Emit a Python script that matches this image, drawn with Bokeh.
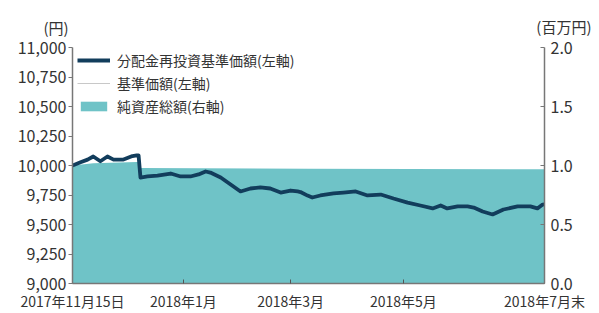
from bokeh.plotting import figure
from bokeh.models import (Range1d, LinearAxis, FixedTicker, NumeralTickFormatter,
                          Legend, LegendItem, Title)
from bokeh.embed import file_html
from bokeh.resources import INLINE

FONT = "Noto Sans CJK JP"

# position along the time axis (0 = 2017/11/15, 100 = 2018/7 end)
pos = [0, 1.7, 3.2, 4.4, 5.9, 7.4, 8.7, 10.8, 12.7, 13.6, 14.0, 14.4, 15.9, 18.0,
       20.8, 22.9, 25.0, 26.7, 28.2, 29.2, 31.4, 33.5, 35.6, 37.7, 39.8, 41.9,
       44.1, 46.2, 47.7, 48.3, 49.8, 50.8, 52.5, 55.3, 57.4, 60.0, 62.5, 65.3,
       68.0, 71.0, 73.7, 76.3, 78.0, 79.4, 81.6, 83.7, 85.0, 86.9, 89.0, 91.3,
       94.3, 97.0, 98.5, 99.6, 100]
# 分配金再投資基準価額 (円)
nav_reinv = [10000, 10028, 10050, 10076, 10036, 10076, 10050, 10050, 10080, 10085,
             10085, 9898, 9907, 9915, 9932, 9907, 9907, 9924, 9949, 9940, 9898,
             9839, 9780, 9805, 9814, 9805, 9771, 9788, 9780, 9775, 9745, 9729,
             9746, 9763, 9771, 9780, 9746, 9754, 9720, 9686, 9661, 9636, 9661,
             9636, 9653, 9653, 9644, 9610, 9585, 9627, 9653, 9653, 9636, 9669, 9670]
# 基準価額 (円) – no distributions, identical to the reinvested series
nav = list(nav_reinv)

# 純資産総額 (百万円)
na_pos = [0, 4.4, 13.6, 14.0, 14.4, 50.0, 100]
net_assets = [1.0, 1.02, 1.03, 1.03, 0.978, 0.973, 0.968]

xtick_pos = [0, 23.5, 46.2, 70.1, 100]
xtick_labels = ["2017年11月15日", "2018年1月", "2018年3月", "2018年5月", "2018年7月末"]
ytick_left = [9000, 9250, 9500, 9750, 10000, 10250, 10500, 10750, 11000]
ytick_right = [0.0, 0.5, 1.0, 1.5, 2.0]

p = figure(width=599, height=313, output_backend="svg", toolbar_location=None,
           x_range=Range1d(0, 100), y_range=Range1d(9000, 11000),
           min_border_left=72, min_border_right=55, min_border_top=47,
           min_border_bottom=30)
p.outline_line_color = None
p.xgrid.visible = False
p.ygrid.visible = False
p.background_fill_color = "white"

p.extra_y_ranges = {"na": Range1d(0, 2.0)}

area = p.varea(x=na_pos, y1=0, y2=net_assets, y_range_name="na",
               fill_color="#6fc3c7", fill_alpha=1.0)
gray = p.line(pos, nav, line_color="#c8c8c8", line_width=1)
dark = p.line(pos, nav_reinv, line_color="#123d5c", line_width=3.8,
              line_join="round")

# x axis
xa = p.xaxis[0]
xa.ticker = FixedTicker(ticks=xtick_pos)
xa.major_label_overrides = {t: l for t, l in zip(xtick_pos, xtick_labels)}
xa.major_tick_in = 4
xa.major_tick_out = 0
xa.minor_tick_line_color = None
xa.axis_line_color = "#777777"
xa.axis_line_width = 1.5
xa.major_tick_line_color = "#555555"
xa.major_label_text_font = FONT
xa.major_label_text_font_size = "14px"
xa.major_label_text_color = "#333333"
xa.major_label_standoff = 7

# left y axis
ya = p.yaxis[0]
ya.ticker = FixedTicker(ticks=ytick_left)
ya.formatter = NumeralTickFormatter(format="0,0")
ya.major_tick_in = 0
ya.major_tick_out = 4
ya.minor_tick_line_color = None
ya.axis_line_color = "#777777"
ya.axis_line_width = 1.5
ya.major_tick_line_color = "#777777"
ya.major_label_text_font = FONT
ya.major_label_text_font_size = "16px"
ya.major_label_text_color = "#333333"
ya.major_label_standoff = 2

# right y axis
ra = LinearAxis(y_range_name="na", ticker=FixedTicker(ticks=ytick_right),
                formatter=NumeralTickFormatter(format="0.0"))
ra.major_tick_in = 4
ra.major_tick_out = 0
ra.minor_tick_line_color = None
ra.axis_line_color = "#777777"
ra.axis_line_width = 1.5
ra.major_tick_line_color = "#777777"
ra.major_label_text_font = FONT
ra.major_label_text_font_size = "16px"
ra.major_label_text_color = "#333333"
ra.major_label_standoff = 6
p.add_layout(ra, "right")

# unit labels as titles above the frame (second one overlaid on the same line)
p.add_layout(Title(text="(円)", align="left", offset=-29, standoff=18,
                   vertical_align="middle",
                   text_font=FONT, text_font_size="15px", text_font_style="normal",
                   text_color="#333333"), "above")
p.add_layout(Title(text="(百万円)", align="right", offset=-47, standoff=-60,
                   text_font=FONT, text_font_size="15px", text_font_style="normal",
                   text_color="#333333"), "above")

legend = Legend(items=[
    LegendItem(label="分配金再投資基準価額(左軸)", renderers=[dark]),
    LegendItem(label="基準価額(左軸)", renderers=[gray]),
    LegendItem(label="純資産総額(右軸)", renderers=[area]),
], location=(5, 167))
legend.glyph_width = 33
legend.glyph_height = 12
legend.label_height = 12
legend.spacing = 3
legend.padding = 0
legend.margin = 0
legend.label_standoff = 7
legend.border_line_color = None
legend.background_fill_alpha = 0
legend.label_text_font = FONT
legend.label_text_font_size = "14px"
legend.label_text_color = "#333333"
p.add_layout(legend)

open("out.html", "w").write(file_html(p, INLINE))
